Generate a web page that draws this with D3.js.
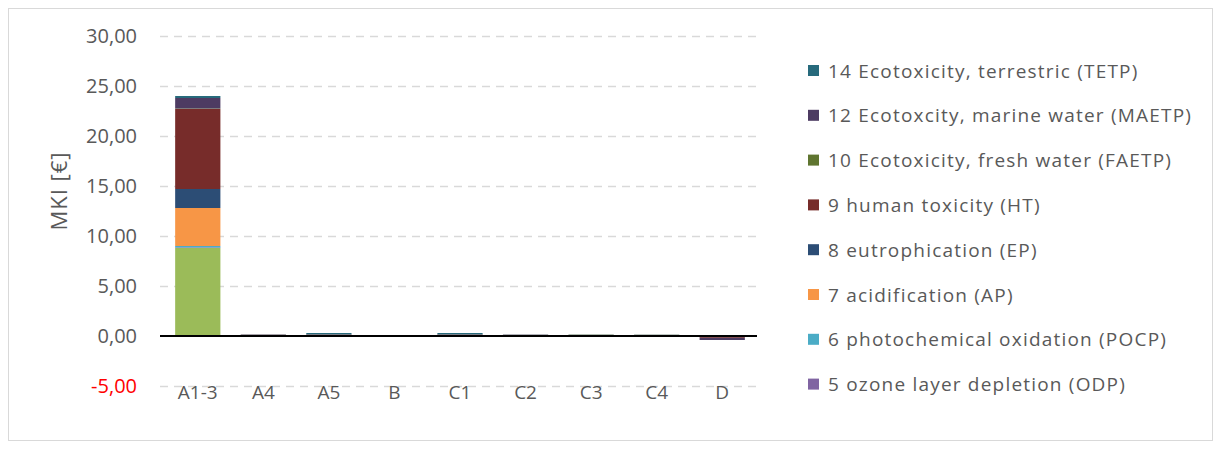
<!DOCTYPE html>
<html>
<head>
<meta charset="utf-8">
<script src="https://cdn.jsdelivr.net/npm/d3@7"></script>
<style>
  body { margin: 0; background: #fff; }
  #chart { width: 1223px; height: 451px; }
  text { font-family: 'Open Sans', sans-serif; }
</style>
</head>
<body>
<div id="chart"></div>
<script>
// categories and series
const categories = ['A1-3', 'A4', 'A5', 'B', 'C1', 'C2', 'C3', 'C4', 'D'];
const yTicks = [-5, 0, 5, 10, 15, 20, 25, 30];

// stacking order, bottom to top
const seriesNames = [
  '4 global warming (GWP)',
  '5 ozone layer depletion (ODP)',
  '6 photochemical oxidation (POCP)',
  '7 acidification (AP)',
  '8 eutrophication (EP)',
  '9 human toxicity (HT)',
  '10 Ecotoxicity, fresh water (FAETP)',
  '12 Ecotoxcity, marine water (MAETP)',
  '14 Ecotoxicity, terrestric (TETP)'
];
const gwp   = [8.80, 0.03, 0.05, 0, 0.04, 0.02, 0.02, 0.02, -0.04];
const odp   = [0.06, 0, 0, 0, 0, 0, 0, 0, 0];
const pocp  = [0.14, 0, 0, 0, 0, 0, 0, 0, 0];
const ap    = [3.80, 0.01, 0.02, 0, 0.03, 0.01, 0.01, 0.01, -0.04];
const ep    = [1.90, 0.01, 0.02, 0, 0.02, 0.01, 0.01, 0.01, -0.02];
const ht    = [8.00, 0.08, 0.05, 0, 0.05, 0.08, 0.04, 0.05, -0.08];
const faetp = [0.05, 0, 0, 0, 0, 0, 0.05, 0.03, 0];
const maetp = [1.05, 0.01, 0.02, 0, 0.02, 0.01, 0.01, 0.01, -0.22];
const tetp  = [0.20, 0.02, 0.14, 0, 0.14, 0.02, 0.01, 0.01, 0.06];
const seriesValues = [gwp, odp, pocp, ap, ep, ht, faetp, maetp, tetp];
const seriesColors = ['#9BBB59', '#8064A2', '#4BACC6', '#F79646', '#2C4D75',
                      '#772C2A', '#5F7530', '#4D3B62', '#276A7C'];
// legend shows these, top to bottom (GWP does not fit in the legend)
const legendOrder = [8, 7, 6, 5, 4, 3, 2, 1];

const W = 1223, H = 451;
const margin = { top: 36, left: 165, right: 468, bottom: 65 };

const svg = d3.select('#chart').append('svg')
  .attr('width', W).attr('height', H);

svg.append('rect')
  .attr('x', 8.5).attr('y', 8.5)
  .attr('width', 1204).attr('height', 432)
  .attr('fill', '#fff').attr('stroke', '#D9D9D9');

const rows = categories.map((c, i) => {
  const r = { cat: c };
  seriesNames.forEach((s, j) => { r[s] = seriesValues[j][i]; });
  return r;
});

const stacked = d3.stack().keys(seriesNames)
  .offset(d3.stackOffsetDiverging)(rows);

const x = d3.scaleBand().domain(categories)
  .range([margin.left, W - margin.right])
  .paddingInner(0.31).paddingOuter(0.155);

const y = d3.scaleLinear().domain([-5, 30])
  .range([H - margin.bottom, margin.top]);

// gridlines
svg.append('g').selectAll('line')
  .data(yTicks.filter(t => t !== 0))
  .enter().append('line')
  .attr('x1', margin.left - 5).attr('x2', W - margin.right + 2)
  .attr('y1', d => y(d) + 0.5).attr('y2', d => y(d) + 0.5)
  .attr('stroke', '#D9D9D9').attr('stroke-width', 1.3)
  .attr('stroke-dasharray', '8,6');

// y tick labels (comma decimal, plain hyphen for minus)
const yAxis = svg.append('g')
  .attr('transform', `translate(${margin.left},0)`)
  .call(d3.axisLeft(y).tickValues(yTicks).tickSize(0).tickPadding(28)
    .tickFormat(d => d3.format('.2f')(d).replace('.', ',').replace('\u2212', '-')));
yAxis.select('.domain').remove();
yAxis.selectAll('text')
  .style('font-size', '20px')
  .style('font-family', "'Open Sans', sans-serif")
  .attr('fill', d => d < 0 ? '#FF0000' : '#595959');

// bars
svg.append('g').selectAll('g')
  .data(stacked)
  .enter().append('g')
  .attr('fill', (d, i) => seriesColors[i])
  .selectAll('rect')
  .data(d => d)
  .enter().append('rect')
  .attr('x', d => x(d.data.cat))
  .attr('width', x.bandwidth())
  .attr('y', d => y(Math.max(d[0], d[1])))
  .attr('height', d => Math.abs(y(d[0]) - y(d[1])));

// zero line
svg.append('line')
  .attr('x1', margin.left - 5).attr('x2', W - margin.right + 2)
  .attr('y1', y(0)).attr('y2', y(0))
  .attr('stroke', '#000').attr('stroke-width', 2.2);

// category labels
svg.append('g').selectAll('text')
  .data(categories)
  .enter().append('text')
  .attr('x', d => x(d) + x.bandwidth() / 2)
  .attr('y', y(-5) + 13)
  .attr('text-anchor', 'middle')
  .attr('fill', '#595959')
  .style('font-size', '19px')
  .text(d => d);

// y axis title
svg.append('text')
  .attr('transform', `translate(67,${y(14.5)}) rotate(-90)`)
  .attr('text-anchor', 'middle')
  .attr('fill', '#595959')
  .style('font-size', '22px')
  .style('letter-spacing', '1px')
  .text('MKI [€]');

// legend
const legend = svg.append('g').selectAll('g')
  .data(legendOrder)
  .enter().append('g')
  .attr('transform', (d, i) => `translate(808,${70 + i * 44.8})`);
legend.append('rect')
  .attr('x', 0).attr('y', -5)
  .attr('width', 11).attr('height', 11)
  .attr('fill', d => seriesColors[d]);
legend.append('text')
  .attr('x', 20).attr('y', 1).attr('dy', '0.35em')
  .attr('fill', '#595959')
  .style('font-size', '19px')
  .style('letter-spacing', '1.2px')
  .text(d => seriesNames[d]);
</script>
</body>
</html>
